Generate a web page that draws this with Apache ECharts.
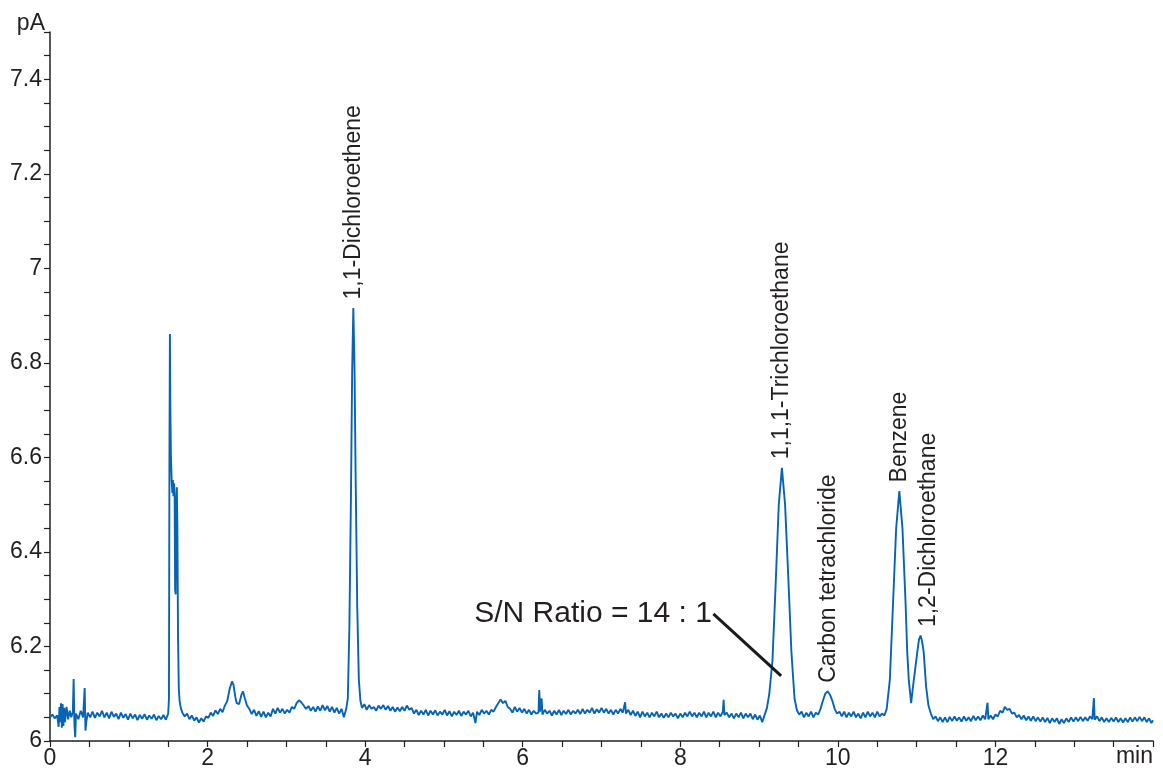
<!DOCTYPE html>
<html>
<head>
<meta charset="utf-8">
<script src="https://cdn.jsdelivr.net/npm/echarts@6/dist/echarts.min.js"></script>
<style>
html,body{margin:0;padding:0;background:#fff;}
#chart{width:1163px;height:769px;}
</style>
</head>
<body>
<div id="chart"></div>
<script>
// Retention time (min) and detector signal (pA)
var signal = [
[0.00,6.050],[0.03,6.056],[0.06,6.048],[0.09,6.054],[0.11,6.030],[0.12,6.072],[0.13,6.040],[0.14,6.080],[0.15,6.028],[0.16,6.078],[0.17,6.032],[0.18,6.070],
[0.19,6.040],[0.21,6.072],[0.23,6.046],[0.25,6.064],[0.27,6.050],[0.29,6.062],[0.30,6.131],[0.31,6.035],[0.32,6.008],[0.33,6.058],
[0.36,6.046],[0.39,6.064],[0.42,6.050],[0.44,6.112],[0.45,6.022],[0.46,6.040],[0.48,6.060],[0.51,6.050],[0.54,6.062],[0.57,6.049],
[0.60,6.060],[0.63,6.052],[0.66,6.064],[0.69,6.050],[0.72,6.060],[0.75,6.048],[0.78,6.062],[0.81,6.051],[0.84,6.058],[0.87,6.046],
[0.90,6.060],[0.93,6.049],[0.96,6.057],[0.99,6.045],[1.02,6.058],[1.05,6.048],[1.08,6.056],[1.11,6.044],[1.14,6.055],[1.17,6.047],
[1.20,6.057],[1.23,6.045],[1.26,6.054],[1.29,6.047],[1.32,6.056],[1.35,6.044],[1.38,6.053],[1.41,6.046],[1.44,6.055],[1.47,6.045],
[1.50,6.058],[1.51,6.090],[1.516,6.600],[1.522,6.861],[1.528,6.700],[1.535,6.600],[1.545,6.548],[1.553,6.525],[1.56,6.552],
[1.567,6.518],[1.575,6.545],[1.582,6.520],[1.588,6.320],[1.595,6.310],[1.603,6.500],[1.61,6.537],[1.617,6.450],[1.625,6.220],
[1.635,6.110],[1.645,6.085],[1.66,6.070],[1.68,6.060],[1.71,6.052],[1.74,6.058],[1.77,6.046],[1.80,6.054],[1.83,6.043],[1.86,6.050],
[1.89,6.039],[1.92,6.048],[1.95,6.041],[1.98,6.052],[2.01,6.049],[2.04,6.060],[2.07,6.053],[2.10,6.065],[2.13,6.057],[2.16,6.068],
[2.19,6.061],[2.22,6.075],[2.25,6.085],[2.28,6.110],[2.31,6.126],[2.33,6.118],[2.35,6.095],[2.37,6.080],[2.40,6.078],[2.43,6.098],
[2.45,6.105],[2.47,6.092],[2.50,6.075],[2.53,6.068],[2.56,6.057],[2.59,6.066],[2.62,6.053],[2.65,6.063],[2.68,6.051],[2.71,6.062],
[2.74,6.050],[2.77,6.060],[2.80,6.052],[2.83,6.068],[2.86,6.058],[2.89,6.070],[2.92,6.060],[2.95,6.068],[2.98,6.058],[3.01,6.066],
[3.04,6.060],[3.07,6.072],[3.10,6.068],[3.13,6.080],[3.16,6.086],[3.19,6.082],[3.22,6.075],[3.25,6.068],[3.28,6.074],[3.31,6.064],
[3.34,6.072],[3.37,6.062],[3.40,6.073],[3.43,6.064],[3.46,6.076],[3.49,6.065],[3.52,6.074],[3.55,6.062],[3.58,6.072],[3.61,6.060],
[3.64,6.070],[3.67,6.058],[3.70,6.068],[3.73,6.050],[3.76,6.068],[3.78,6.090],[3.80,6.240],[3.82,6.520],[3.835,6.780],[3.85,6.916],
[3.865,6.790],[3.88,6.550],[3.90,6.280],[3.92,6.130],[3.94,6.085],[3.96,6.070],[3.99,6.078],[4.02,6.066],[4.05,6.076],[4.08,6.068],
[4.11,6.072],[4.14,6.064],[4.17,6.075],[4.20,6.068],[4.23,6.076],[4.26,6.066],[4.29,6.074],[4.32,6.064],[4.35,6.072],[4.38,6.062],
[4.41,6.071],[4.44,6.063],[4.47,6.072],[4.50,6.064],[4.53,6.075],[4.56,6.066],[4.59,6.070],[4.62,6.058],[4.65,6.066],[4.68,6.055],
[4.71,6.064],[4.74,6.056],[4.77,6.066],[4.80,6.054],[4.83,6.064],[4.86,6.056],[4.89,6.065],[4.92,6.054],[4.95,6.062],[4.98,6.056],
[5.01,6.066],[5.04,6.054],[5.07,6.063],[5.10,6.052],[5.13,6.062],[5.16,6.055],[5.19,6.064],[5.22,6.053],[5.25,6.062],[5.28,6.056],
[5.31,6.064],[5.34,6.052],[5.37,6.060],[5.40,6.038],[5.42,6.062],[5.45,6.055],[5.48,6.066],[5.51,6.058],[5.54,6.064],[5.57,6.056],
[5.60,6.066],[5.63,6.062],[5.66,6.072],[5.69,6.080],[5.72,6.088],[5.75,6.080],[5.78,6.085],[5.81,6.072],[5.84,6.068],[5.87,6.060],
[5.90,6.072],[5.93,6.062],[5.96,6.070],[5.99,6.060],[6.02,6.068],[6.05,6.058],[6.08,6.066],[6.11,6.056],[6.14,6.064],[6.17,6.058],
[6.20,6.060],[6.21,6.108],[6.22,6.062],[6.24,6.090],[6.25,6.056],[6.28,6.066],[6.31,6.058],[6.34,6.064],[6.37,6.054],[6.40,6.064],
[6.43,6.056],[6.46,6.066],[6.49,6.055],[6.52,6.064],[6.55,6.057],[6.58,6.066],[6.61,6.056],[6.64,6.064],[6.67,6.058],[6.70,6.066],
[6.73,6.057],[6.76,6.068],[6.79,6.058],[6.82,6.066],[6.85,6.060],[6.88,6.070],[6.91,6.058],[6.94,6.067],[6.97,6.060],[7.00,6.070],
[7.03,6.060],[7.06,6.068],[7.09,6.058],[7.12,6.066],[7.15,6.056],[7.18,6.066],[7.21,6.058],[7.24,6.068],[7.27,6.060],[7.30,6.082],
[7.31,6.058],[7.34,6.066],[7.37,6.055],[7.40,6.064],[7.43,6.053],[7.46,6.062],[7.49,6.050],[7.52,6.062],[7.55,6.052],[7.58,6.060],
[7.61,6.050],[7.64,6.060],[7.67,6.052],[7.70,6.062],[7.73,6.050],[7.76,6.058],[7.79,6.049],[7.82,6.058],[7.85,6.050],[7.88,6.060],
[7.91,6.052],[7.94,6.058],[7.97,6.048],[8.00,6.058],[8.03,6.050],[8.06,6.060],[8.09,6.052],[8.12,6.062],[8.15,6.052],[8.18,6.060],
[8.21,6.050],[8.24,6.060],[8.27,6.052],[8.30,6.062],[8.33,6.050],[8.36,6.060],[8.39,6.052],[8.42,6.062],[8.45,6.050],[8.48,6.060],
[8.51,6.052],[8.54,6.062],[8.55,6.087],[8.56,6.055],[8.59,6.060],[8.62,6.050],[8.65,6.058],[8.68,6.048],[8.71,6.058],[8.74,6.050],
[8.77,6.060],[8.80,6.048],[8.83,6.058],[8.86,6.050],[8.89,6.058],[8.92,6.046],[8.95,6.056],[8.98,6.045],[9.01,6.054],[9.04,6.040],
[9.06,6.050],[9.08,6.060],[9.10,6.070],[9.13,6.100],[9.17,6.170],[9.21,6.330],[9.25,6.500],[9.29,6.578],[9.33,6.500],[9.37,6.350],
[9.41,6.190],[9.45,6.090],[9.48,6.065],[9.51,6.056],[9.54,6.062],[9.57,6.050],[9.60,6.060],[9.63,6.052],[9.66,6.062],[9.69,6.050],
[9.72,6.060],[9.75,6.056],[9.78,6.068],[9.81,6.085],[9.84,6.100],[9.87,6.105],[9.90,6.098],[9.93,6.085],[9.96,6.068],[9.99,6.058],
[10.02,6.062],[10.05,6.052],[10.08,6.062],[10.11,6.050],[10.14,6.060],[10.17,6.052],[10.20,6.062],[10.23,6.050],[10.26,6.058],
[10.29,6.048],[10.32,6.060],[10.35,6.050],[10.38,6.062],[10.41,6.052],[10.44,6.060],[10.47,6.050],[10.50,6.062],[10.53,6.052],
[10.56,6.058],[10.59,6.054],[10.62,6.068],[10.66,6.130],[10.70,6.290],[10.74,6.450],[10.78,6.529],[10.82,6.450],[10.86,6.290],
[10.88,6.190],[10.90,6.130],[10.93,6.080],[10.95,6.110],[10.98,6.150],[11.01,6.190],[11.03,6.215],[11.05,6.223],[11.07,6.210],
[11.09,6.187],[11.12,6.115],[11.15,6.075],[11.18,6.058],[11.21,6.046],[11.24,6.052],[11.27,6.042],[11.30,6.050],[11.33,6.040],
[11.36,6.050],[11.39,6.040],[11.42,6.051],[11.45,6.042],[11.48,6.052],[11.51,6.043],[11.54,6.050],[11.57,6.041],[11.60,6.052],
[11.63,6.043],[11.66,6.050],[11.69,6.042],[11.72,6.053],[11.75,6.044],[11.78,6.052],[11.81,6.044],[11.84,6.054],[11.87,6.046],
[11.89,6.050],[11.90,6.081],[11.91,6.046],[11.94,6.054],[11.97,6.046],[12.00,6.056],[12.03,6.052],[12.06,6.064],[12.09,6.060],
[12.12,6.072],[12.15,6.066],[12.18,6.068],[12.21,6.058],[12.24,6.060],[12.27,6.050],[12.30,6.055],[12.33,6.046],[12.36,6.054],
[12.39,6.044],[12.42,6.052],[12.45,6.043],[12.48,6.052],[12.51,6.042],[12.54,6.050],[12.57,6.041],[12.60,6.050],[12.63,6.040],
[12.66,6.049],[12.69,6.038],[12.72,6.048],[12.75,6.040],[12.78,6.048],[12.81,6.036],[12.84,6.046],[12.87,6.038],[12.90,6.048],
[12.93,6.040],[12.96,6.050],[12.99,6.041],[13.02,6.050],[13.05,6.042],[13.08,6.051],[13.11,6.042],[13.14,6.050],[13.17,6.043],
[13.20,6.052],[13.23,6.046],[13.25,6.091],[13.26,6.045],[13.29,6.052],[13.32,6.042],[13.35,6.050],[13.38,6.040],[13.41,6.048],
[13.44,6.040],[13.47,6.049],[13.50,6.041],[13.53,6.050],[13.56,6.040],[13.59,6.048],[13.62,6.039],[13.65,6.048],[13.68,6.040],
[13.71,6.050],[13.74,6.041],[13.77,6.050],[13.80,6.042],[13.83,6.051],[13.86,6.042],[13.89,6.050],[13.92,6.040],[13.95,6.048],
[13.98,6.038],[14.00,6.044]
];

// Named peaks
var peakNames  = ['1,1-Dichloroethene', '1,1,1-Trichloroethane', 'Carbon tetrachloride', 'Benzene', '1,2-Dichloroethane'];
var peakTimes  = [3.85, 9.29, 9.88, 10.78, 11.05];
var peakValues = [6.916, 6.578, 6.105, 6.529, 6.223];

// Signal-to-noise annotation
var snText = 'S/N Ratio = 14 : 1';
var snLine = [[8.42, 6.269], [9.28, 6.138]];

var FONT = '"Liberation Sans", Arial, Helvetica, sans-serif';
var INK = '#231f20';
var BLUE = '#0763b3';

var chart = echarts.init(document.getElementById('chart'), null, {renderer: 'canvas'});

var peakMarks = peakNames.map(function (n, i) {
  var item = {name: n, coord: [peakTimes[i], peakValues[i]]};
  if (n === '1,2-Dichloroethane') {
    item.label = {offset: [0, 8]};
  }
  return item;
});

var option = {
  animation: false,
  backgroundColor: '#ffffff',
  grid: {left: 50, right: 10, top: 32, bottom: 28, containLabel: false, outerBoundsMode: 'none'},
  xAxis: {
    type: 'value', min: 0, max: 14, interval: 0.5,
    name: 'min', nameLocation: 'end', nameGap: 0,
    nameTextStyle: {fontFamily: FONT, fontSize: 23, color: INK, align: 'right', verticalAlign: 'top', padding: [4, 0, 0, 0]},
    axisLine: {show: true, onZero: false, lineStyle: {color: INK, width: 1.5}},
    axisTick: {show: true, length: 6, lineStyle: {color: INK, width: 1.2}},
    axisLabel: {
      fontFamily: FONT, fontSize: 23, color: INK, margin: 6,
      formatter: function (v) {
        var r = Math.round(v * 100) / 100;
        if (r >= 14) return '';
        return (Math.abs(r / 2 - Math.round(r / 2)) < 1e-6) ? String(r) : '';
      }
    },
    splitLine: {show: false}
  },
  yAxis: {
    type: 'value', min: 6, max: 7.5, interval: 0.05,
    name: 'pA', nameLocation: 'end', nameGap: 0,
    nameTextStyle: {fontFamily: FONT, fontSize: 23, color: INK, align: 'right', verticalAlign: 'bottom', padding: [0, 5, -3, 0]},
    axisLine: {show: true, onZero: false, lineStyle: {color: INK, width: 1.5}},
    axisTick: {show: true, length: 6, lineStyle: {color: INK, width: 1.2}},
    axisLabel: {
      fontFamily: FONT, fontSize: 23, color: INK, margin: 8,
      formatter: function (v) {
        var k = v * 5;
        if (Math.abs(k - Math.round(k)) < 1e-6) return String(Math.round(v * 10) / 10);
        return '';
      }
    },
    splitLine: {show: false}
  },
  series: [{
    type: 'line',
    data: signal,
    showSymbol: false,
    symbol: 'none',
    sampling: null,
    lineStyle: {color: BLUE, width: 1.9},
    itemStyle: {color: BLUE},
    z: 3,
    markPoint: {
      symbol: 'circle', symbolSize: 1,
      itemStyle: {color: 'rgba(0,0,0,0)'},
      silent: true,
      label: {
        show: true, position: 'top', distance: 8, rotate: 90,
        align: 'left', verticalAlign: 'middle',
        fontFamily: FONT, fontSize: 23, color: INK,
        formatter: function (p) { return p.name; }
      },
      data: peakMarks.concat([{
        name: snText, coord: snLine[0],
        label: {position: 'left', distance: 1, rotate: 0, align: 'right', verticalAlign: 'middle', fontSize: 30, color: INK}
      }])
    },
    markLine: {
      silent: true, symbol: ['none', 'none'],
      label: {show: false},
      lineStyle: {color: '#1a1a1a', width: 3, type: 'solid'},
      data: [[{coord: snLine[0]}, {coord: snLine[1]}]]
    }
  }]
};
chart.setOption(option);
</script>
</body>
</html>
